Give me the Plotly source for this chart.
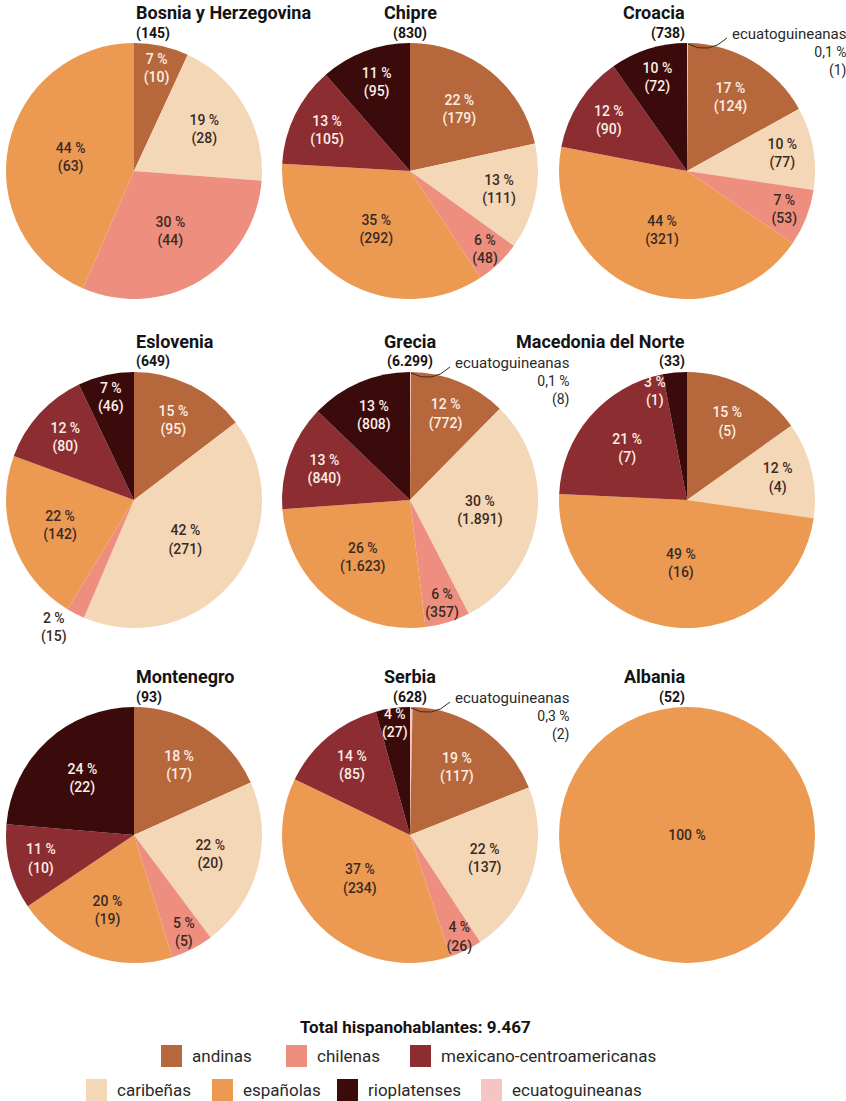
import plotly.graph_objects as go

# Categories and colours
categories = ["ecuatoguineanas", "andinas", "caribeñas", "chilenas",
              "españolas", "mexicano-centroamericanas", "rioplatenses"]
colors = {
    "andinas": "#B6683C",
    "caribeñas": "#F4D7B7",
    "chilenas": "#EE8E7F",
    "españolas": "#EC9A52",
    "mexicano-centroamericanas": "#8B2D31",
    "rioplatenses": "#3B0B0C",
    "ecuatoguineanas": "#F6C4C4",
}
dark_slices = {"andinas", "mexicano-centroamericanas", "rioplatenses"}

# Countries (grid order)
countries = ["Bosnia y Herzegovina", "Chipre", "Croacia",
             "Eslovenia", "Grecia", "Macedonia del Norte",
             "Montenegro", "Serbia", "Albania"]

# Speakers per variety, in category order (None = absent)
bosnia_values     = [None, 10, 28, 44, 63, None, None]
chipre_values     = [None, 179, 111, 48, 292, 105, 95]
croacia_values    = [1, 124, 77, 53, 321, 90, 72]
eslovenia_values  = [None, 95, 271, 15, 142, 80, 46]
grecia_values     = [8, 772, 1891, 357, 1623, 840, 808]
macedonia_values  = [None, 5, 4, None, 16, 7, 1]
montenegro_values = [None, 17, 20, 5, 19, 10, 22]
serbia_values     = [2, 117, 137, 26, 234, 85, 27]
albania_values    = [None, None, None, None, 52, None, None]

# Percentage labels per slice
bosnia_pct     = [None, "7", "19", "30", "44", None, None]
chipre_pct     = [None, "22", "13", "6", "35", "13", "11"]
croacia_pct    = ["0,1", "17", "10", "7", "44", "12", "10"]
eslovenia_pct  = [None, "15", "42", "2", "22", "12", "7"]
grecia_pct     = ["0,1", "12", "30", "6", "26", "13", "13"]
macedonia_pct  = [None, "15", "12", None, "49", "21", "3"]
montenegro_pct = [None, "18", "22", "5", "20", "11", "24"]
serbia_pct     = ["0,3", "19", "22", "4", "37", "14", "4"]
albania_pct    = [None, None, None, None, "100", None, None]

all_values = [bosnia_values, chipre_values, croacia_values,
              eslovenia_values, grecia_values, macedonia_values,
              montenegro_values, serbia_values, albania_values]
all_pct = [bosnia_pct, chipre_pct, croacia_pct,
           eslovenia_pct, grecia_pct, macedonia_pct,
           montenegro_pct, serbia_pct, albania_pct]

legend_row1 = ["andinas", "chilenas", "mexicano-centroamericanas"]
legend_row2 = ["caribeñas", "españolas", "rioplatenses", "ecuatoguineanas"]

W, H = 846, 1101
FONT = "Roboto"
col_cx = [134, 410, 687]
row_cy = [171, 500, 835]
R = 128

# Thin slices whose labels are set by hand (offset from pie centre, px)
manual_labels = {("Macedonia del Norte", "rioplatenses"): (-19, -R + 20)}
outside_labels = {("Eslovenia", "chilenas")}


def fmt_int(n):
    return f"{n:,}".replace(",", ".")


def px(x):
    return x / W


def py(y):
    return 1 - y / H


fig = go.Figure()
annotations = []
shapes = []

for i, (name, vals, pcts) in enumerate(zip(countries, all_values, all_pct)):
    cx = col_cx[i % 3]
    cy = row_cy[i // 3]
    n_present = sum(1 for v in vals if v)
    labels, values, texts, tcols, tpos, mcols = [], [], [], [], [], []
    for cat, v, p in zip(categories, vals, pcts):
        if v is None:
            continue
        labels.append(cat)
        values.append(v)
        mcols.append(colors[cat])
        tcol = "#FBEFE6" if cat in dark_slices else "#3A2A24"
        tcols.append(tcol)
        label = f"{p} %" if n_present == 1 else f"{p} %<br>({fmt_int(v)})"
        if cat == "ecuatoguineanas":
            texts.append("")
            tpos.append("none")
            # label with a leader to the thin slice at the top
            annotations.append(dict(
                x=px(cx + 161), y=py(cy - R + 9), xref="paper", yref="paper",
                xanchor="right", yanchor="middle", align="right",
                text=(f"<span style='font-size:15px'>ecuatoguineanas</span><br>"
                      f"{p} %<br>({fmt_int(v)})"),
                showarrow=False, font=dict(family=FONT, size=14, color="#2A2A2A")))
            x0, y0 = cx + 1, cy - R + 1
            x1, y1 = cx + 40, cy - R - 5
            xc, yc = cx + 22, cy - R + 12
            shapes.append(dict(
                type="path", xref="paper", yref="paper",
                path=f"M {px(x0)},{py(y0)} Q {px(xc)},{py(yc)} {px(x1)},{py(y1)}",
                line=dict(color="#3A2A24", width=1)))
            continue
        if (name, cat) in manual_labels:
            dx, dy = manual_labels[(name, cat)]
            texts.append("")
            tpos.append("none")
            annotations.append(dict(
                x=px(cx + dx), y=py(cy + dy), xref="paper", yref="paper",
                text=label, showarrow=False, yanchor="middle",
                font=dict(family=FONT, size=14, color=tcol, weight=500)))
            continue
        texts.append(label)
        tpos.append("outside" if (name, cat) in outside_labels else "inside")

    fig.add_trace(go.Pie(
        labels=labels, values=values, text=texts,
        textinfo="text", textposition=tpos,
        insidetextorientation="horizontal",
        textfont=dict(family=FONT, size=14, color=tcols, weight=500),
        outsidetextfont=dict(family=FONT, size=14, color="#3A2A24", weight=500),
        marker=dict(colors=mcols, line=dict(width=0)),
        sort=False, direction="clockwise", rotation=0,
        showlegend=False, hoverinfo="label+value",
        domain=dict(x=[px(cx - R), px(cx + R)], y=[py(cy + R), py(cy - R)]),
    ))

    total = sum(v for v in vals if v)
    annotations.append(dict(
        x=px(cx), y=py(cy - R - 31), xref="paper", yref="paper",
        text=f"<b>{name}</b>", showarrow=False, yanchor="middle",
        font=dict(family=FONT, size=18, color="#141414")))
    annotations.append(dict(
        x=px(cx), y=py(cy - R - 10), xref="paper", yref="paper",
        text=f"<b>({fmt_int(total)})</b>", showarrow=False, yanchor="middle",
        font=dict(family=FONT, size=14, color="#141414")))

# Legend
grand_total = sum(sum(v for v in vals if v) for vals in all_values)
annotations.append(dict(
    x=px(415), y=py(1027), xref="paper", yref="paper",
    text=f"<b>Total hispanohablantes: {fmt_int(grand_total)}</b>",
    showarrow=False, yanchor="middle",
    font=dict(family=FONT, size=17, color="#141414")))

legend_rows = [(legend_row1, [161, 286, 410], 1056),
               (legend_row2, [86, 212, 337, 481], 1090)]
for items, xs, y in legend_rows:
    for cat, x in zip(items, xs):
        shapes.append(dict(type="rect", xref="paper", yref="paper",
                           x0=px(x), x1=px(x + 21), y0=py(y + 11), y1=py(y - 11),
                           fillcolor=colors[cat], line=dict(width=0)))
        annotations.append(dict(
            x=px(x + 29), y=py(y), xref="paper", yref="paper",
            text=cat, showarrow=False, xanchor="left", yanchor="middle",
            font=dict(family=FONT, size=17, color="#2A2A2A")))

fig.update_layout(
    width=W, height=H,
    margin=dict(l=0, r=0, t=0, b=0),
    paper_bgcolor="white", plot_bgcolor="white",
    font=dict(family=FONT),
    uniformtext=dict(minsize=14, mode="show"),
    annotations=annotations, shapes=shapes,
)

fig.write_html("out.html")
